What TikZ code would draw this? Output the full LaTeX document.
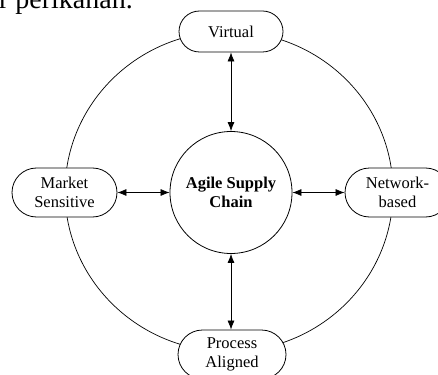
\documentclass[tikz,border=0pt]{standalone}
\usepackage{fontspec}
\setmainfont{Liberation Serif}
\usetikzlibrary{arrows.meta,shapes.misc}
\begin{document}
\begin{tikzpicture}[x=1pt,y=-1pt,
  pill/.style={rounded rectangle, draw, line width=0.8pt, fill=white,
    align=center, inner sep=0pt, minimum height=49pt, minimum width=105pt,
    font=\fontsize{16.5}{19}\selectfont},
  hub/.style={circle, draw, line width=0.8pt, fill=white, align=center,
    inner sep=0pt, minimum size=122pt,
    font=\fontsize{16.5}{19}\selectfont\bfseries},
  link/.style={line width=0.7pt, {Latex[length=9pt,width=7pt]}-{Latex[length=9pt,width=7pt]}}]
\useasboundingbox (0,0) rectangle (438,374);
\clip (0,0) rectangle (438,374);

% heading line from the surrounding text
\node[anchor=base east, inner sep=0pt, font=\fontsize{28}{30}\selectfont] (hdr) at (133,8.5) {r perikanan.};

% outer ring
\draw[line width=0.7pt] (229,191.5) ellipse [x radius=164, y radius=160];

% central hub and the four attributes
\node[hub] (asc) at (231,192.5) {Agile Supply\\Chain};
\node[pill, minimum height=41pt, minimum width=104pt] (virt) at (231,31.5) {Virtual};
\node[pill] (mkt) at (64.5,192.5) {Market\\Sensitive};
\node[pill] (net) at (397.5,192.5) {Network-\\based};
\node[pill, minimum width=108pt] (proc) at (232,354.5) {Process\\Aligned};

% links
\draw[link] (virt.south) -- (asc.north);
\draw[link] (asc.south) -- (asc.south |- proc.north);
\draw[link] (mkt.east) -- (asc.west);
\draw[link] (asc.east) -- (net.west);
\end{tikzpicture}
\end{document}
